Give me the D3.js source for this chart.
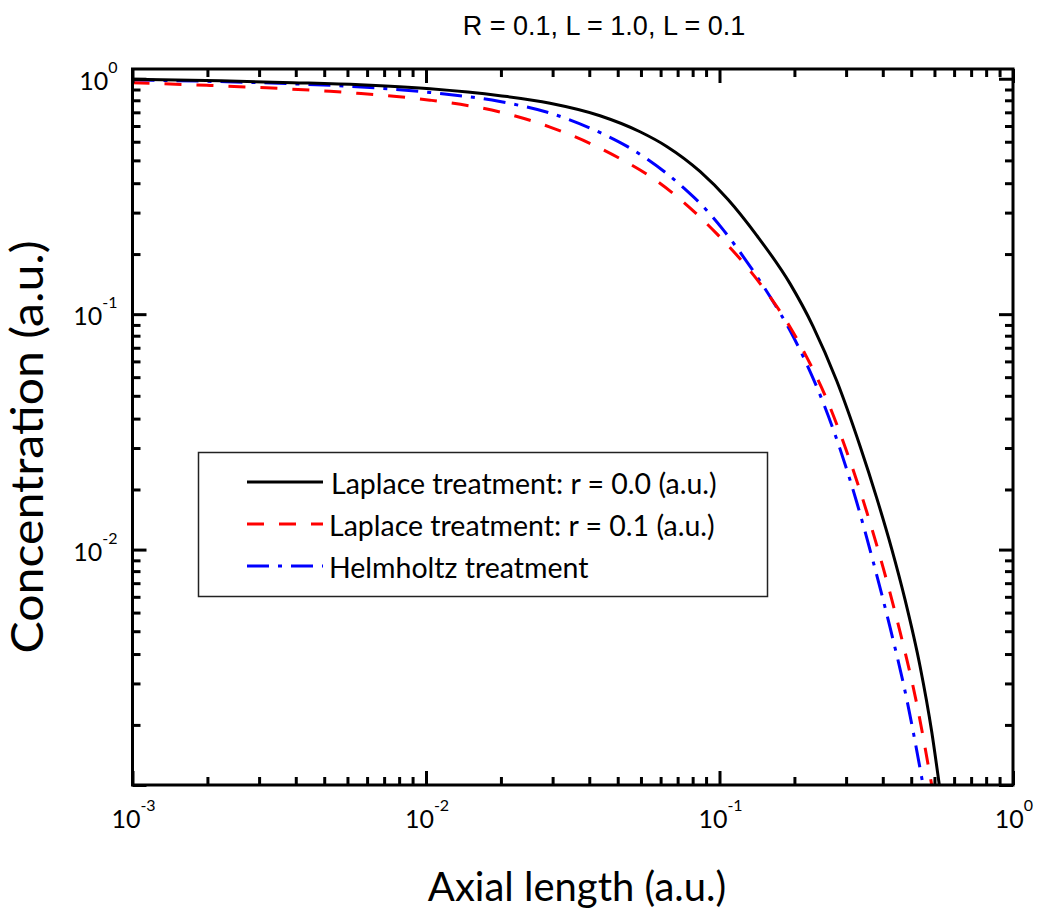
<!DOCTYPE html>
<html>
<head>
<meta charset="utf-8">
<script src="https://cdn.jsdelivr.net/npm/d3@7"></script>
<style>
  body { margin: 0; background: #fff; }
  svg { display: block; }
</style>
</head>
<body>
<svg id="chart" width="1040" height="911"></svg>
<script>
// ---- data ----------------------------------------------------------
const laplaceR0X = [0.001, 0.002001, 0.003508, 0.005958, 0.01032, 0.01787, 0.02646, 0.03916, 0.0536, 0.0661, 0.0858, 0.1069, 0.1339, 0.1739, 0.2083, 0.2508, 0.3011, 0.3432, 0.3861, 0.4285, 0.4821, 0.5284, 0.561];
const laplaceR0Y = [0.994, 0.9797, 0.9626, 0.9430, 0.9069, 0.847, 0.787, 0.6965, 0.5955, 0.5158, 0.4039, 0.307, 0.2162, 0.1348, 0.0888, 0.0521, 0.02753, 0.01658, 0.01007, 0.00614, 0.0032, 0.001686, 0.001];

const laplaceR01X = [0.001, 0.00179, 0.002865, 0.00471, 0.00582, 0.01032, 0.01787, 0.02646, 0.04581, 0.0595, 0.0753, 0.0978, 0.1238, 0.1486, 0.1739, 0.1982, 0.2318, 0.2677, 0.3174, 0.3614, 0.4121, 0.4697, 0.5284];
const laplaceR01Y = [0.9616, 0.9375, 0.9149, 0.8841, 0.8678, 0.8111, 0.7222, 0.6235, 0.4581, 0.3767, 0.2996, 0.2198, 0.1591, 0.1183, 0.0882, 0.0657, 0.04358, 0.02736, 0.01447, 0.00834, 0.00448, 0.00222, 0.001];

const helmholtzX = [0.001, 0.002094, 0.00372, 0.00521, 0.01032, 0.01787, 0.02646, 0.04127, 0.04828, 0.05649, 0.0661, 0.0773, 0.0858, 0.103, 0.1238, 0.1486, 0.1739, 0.1982, 0.2258, 0.2574, 0.2935, 0.3342, 0.381, 0.4343, 0.4821, 0.4937];
const helmholtzY = [0.9874, 0.9711, 0.9495, 0.9320, 0.8745, 0.8000, 0.7148, 0.5727, 0.5173, 0.4571, 0.3957, 0.335, 0.2962, 0.228, 0.1673, 0.1188, 0.0852, 0.0614, 0.04195, 0.02678, 0.01589, 0.00885, 0.00468, 0.00232, 0.001179, 0.001];

const seriesNames = ["Laplace treatment: r = 0.0 (a.u.)", "Laplace treatment: r = 0.1 (a.u.)", "Helmholtz treatment"];
const seriesColors = ["#000000", "#ff0000", "#0000ff"];
const seriesDash = [null, "17,15", "22,9,4,9"];

const xMajorTicks = [1e-3, 1e-2, 1e-1, 1e0];
const xMajorExp = ["-3", "-2", "-1", "0"];
const yMajorTicks = [1e-3, 1e-2, 1e-1, 1e0];
const yLabelTicks = [1e-2, 1e-1, 1e0];
const yLabelExp = ["-2", "-1", "0"];
const minorSteps = [1.8, 2.7, 3.6, 4.5, 5.4, 6.3, 7.2, 8.1, 9.0];

const titleText = "R = 0.1, L = 1.0, L = 0.1";
const xTitle = "Axial length (a.u.)";
const yTitle = "Concentration (a.u.)";

// ---- layout --------------------------------------------------------
const box = { left: 132.5, right: 1013, top: 69, bottom: 785 };
const majorLen = 14, minorLen = 8;
const labelFont = "Lato, 'Open Sans', sans-serif";

const svg = d3.select("#chart");

const x = d3.scaleLog().domain([1e-3, 1]).range([box.left, box.right]);
const y = d3.scaleLog().domain([1e-3, 1.1]).range([box.bottom, box.top]);

function minorTicks(majors, domain) {
  const out = [];
  majors.forEach(d => minorSteps.forEach(m => {
    const v = d * m;
    if (v > domain[0] && v < domain[1]) out.push(v);
  }));
  return out;
}
const xMinor = minorTicks(xMajorTicks, x.domain());
const yMinor = minorTicks(yMajorTicks, y.domain());

// ---- curves --------------------------------------------------------
svg.append("defs").append("clipPath").attr("id", "plotClip")
  .append("rect")
  .attr("x", box.left).attr("y", box.top)
  .attr("width", box.right - box.left).attr("height", box.bottom - box.top);

const series = [
  { xs: laplaceR0X, ys: laplaceR0Y },
  { xs: laplaceR01X, ys: laplaceR01Y },
  { xs: helmholtzX, ys: helmholtzY }
];

const line = d3.line()
  .x(d => x(d[0]))
  .y(d => y(d[1]))
  .curve(d3.curveMonotoneX);

const curves = svg.append("g").attr("clip-path", "url(#plotClip)");
[2, 1, 0].forEach(i => {
  const s = series[i];
  curves.append("path")
    .datum(s.xs.map((v, k) => [v, s.ys[k]]))
    .attr("d", line)
    .attr("fill", "none")
    .attr("stroke", seriesColors[i])
    .attr("stroke-width", 3)
    .attr("stroke-dasharray", seriesDash[i]);
});

// ---- axes (ticks point inward on all four sides) -------------------
function styleAxis(g) {
  g.select(".domain").remove();
  g.selectAll(".tick line").attr("stroke", "#000").attr("stroke-width", 3);
  g.selectAll(".tick text").remove();
}

const axisDefs = [
  { make: d3.axisBottom, scale: x, t: `translate(0,${box.bottom})` },
  { make: d3.axisTop, scale: x, t: `translate(0,${box.top})` },
  { make: d3.axisLeft, scale: y, t: `translate(${box.left},0)` },
  { make: d3.axisRight, scale: y, t: `translate(${box.right},0)` }
];
axisDefs.forEach(a => {
  const majors = a.scale === x ? xMajorTicks : yMajorTicks;
  const minors = a.scale === x ? xMinor : yMinor;
  svg.append("g").attr("transform", a.t)
    .call(a.make(a.scale).tickValues(minors).tickSize(-minorLen).tickFormat(""))
    .call(styleAxis);
  svg.append("g").attr("transform", a.t)
    .call(a.make(a.scale).tickValues(majors).tickSize(-majorLen).tickFormat(""))
    .call(styleAxis);
});

// frame
svg.append("rect")
  .attr("x", box.left).attr("y", box.top)
  .attr("width", box.right - box.left).attr("height", box.bottom - box.top)
  .attr("fill", "none").attr("stroke", "#000").attr("stroke-width", 3);

// ---- tick labels (power-of-ten notation) ----------------------------
function powLabel(g, base, exp, anchor) {
  const t = g.append("text")
    .attr("font-family", labelFont)
    .attr("font-size", 25)
    .attr("fill", "#000")
    .attr("text-anchor", anchor);
  t.append("tspan").text(base);
  t.append("tspan").attr("font-size", 16).attr("dy", -17).text(exp);
  return t;
}

const xLab = svg.append("g");
xMajorTicks.forEach((v, i) => {
  powLabel(xLab, "10", xMajorExp[i], "middle")
    .attr("x", x(v) + 1).attr("y", box.bottom + 43);
});

const yLab = svg.append("g");
yLabelTicks.forEach((v, i) => {
  powLabel(yLab, "10", yLabelExp[i], "end")
    .attr("x", box.left - 15).attr("y", y(v) + 11);
});

// ---- titles --------------------------------------------------------
svg.append("text")
  .attr("x", 604).attr("y", 35)
  .attr("text-anchor", "middle")
  .attr("font-family", "'Liberation Sans', Arial, sans-serif")
  .attr("font-size", 27)
  .text(titleText);

svg.append("text")
  .attr("x", 577).attr("y", 901)
  .attr("text-anchor", "middle")
  .attr("font-family", labelFont)
  .attr("font-size", 40)
  .text(xTitle);

svg.append("text")
  .attr("transform", "translate(43,447) rotate(-90)")
  .attr("text-anchor", "middle")
  .attr("font-family", labelFont)
  .attr("font-size", 44)
  .attr("textLength", 413)
  .attr("lengthAdjust", "spacingAndGlyphs")
  .text(yTitle);

// ---- legend --------------------------------------------------------
const legend = svg.append("g");
legend.append("rect")
  .attr("x", 198.5).attr("y", 452.5)
  .attr("width", 569).attr("height", 144)
  .attr("fill", "#fff").attr("stroke", "#222").attr("stroke-width", 1.5);

const rowY = [482, 524, 566];
const textX = [331, 329, 329];
seriesNames.forEach((name, i) => {
  legend.append("line")
    .attr("x1", 247).attr("x2", 323)
    .attr("y1", rowY[i]).attr("y2", rowY[i])
    .attr("stroke", seriesColors[i])
    .attr("stroke-width", 3)
    .attr("stroke-dasharray", seriesDash[i]);
  legend.append("text")
    .attr("x", textX[i]).attr("y", rowY[i] + 12)
    .attr("font-family", labelFont)
    .attr("font-size", 28.5)
    .text(name);
});
</script>
</body>
</html>
